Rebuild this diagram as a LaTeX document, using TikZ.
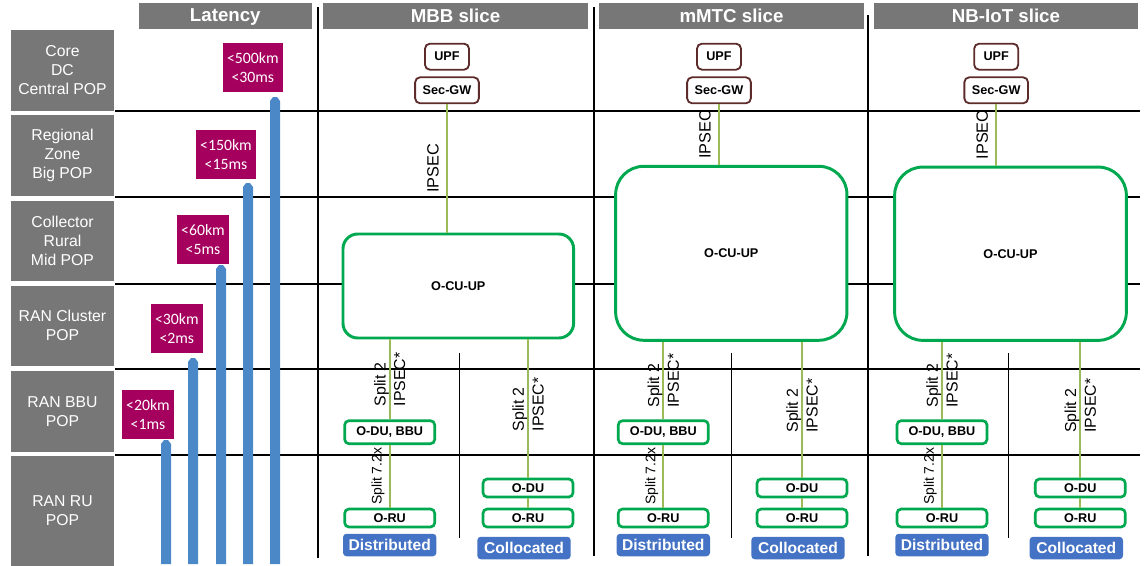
\documentclass[tikz,border=0pt]{standalone}
\usepackage{fontspec}
\setmainfont{Liberation Sans}
\newfontfamily\latfont{Carlito}

\definecolor{hdrgray}{HTML}{777777}
\definecolor{latmag}{HTML}{A6005F}
\definecolor{barblue}{HTML}{4A88C8}
\definecolor{nfgreen}{HTML}{00A84F}
\definecolor{linkolive}{HTML}{9BBB59}
\definecolor{gwbrown}{HTML}{5E2B2B}
\definecolor{tagblue}{HTML}{4472C4}

\newcommand*{\px}{0.025cm}
\newcommand*{\xmin}{0}
\newcommand*{\xmax}{1146}
\newcommand*{\ymin}{0}
\newcommand*{\ymax}{566}

\begin{document}
\begin{tikzpicture}
[
	x=\px, y=-\px,
	gridline/.style={black,line width=0.9pt},
	rowlabel/.style={fill=hdrgray,text=white,inner sep=0pt,minimum width=103*\px,align=center,font=\fontsize{11.2}{13.5}\selectfont},
	header/.style={fill=hdrgray,text=white,inner sep=0pt,minimum height=26*\px,text depth=0pt,font=\bfseries\fontsize{13.3}{15}\selectfont},
	latbox/.style={fill=latmag,text=white,inner xsep=4.5*\px,inner ysep=0pt,minimum height=49*\px,align=center,font=\latfont\fontsize{11.2}{13.5}\selectfont},
	gwbox/.style={draw=gwbrown,line width=1.3pt,fill=white,rounded corners=3.5pt,inner sep=0pt,minimum height=26*\px,font=\bfseries\fontsize{9}{10.8}\selectfont},
	ocu/.style={draw=nfgreen,line width=2.1pt,fill=white,inner sep=0pt,font=\bfseries\fontsize{9}{10.8}\selectfont},
	nfbox/.style={draw=nfgreen,line width=1.9pt,fill=white,rounded corners=3pt,inner sep=0pt,minimum width=90*\px,minimum height=18*\px,font=\bfseries\fontsize{9}{10.8}\selectfont},
	tag/.style={fill=tagblue,text=white,rounded corners=2.5pt,inner sep=0pt,minimum width=93.4*\px,minimum height=22.5*\px,font=\bfseries\fontsize{11.1}{13}\selectfont},
	link/.style={linkolive,line width=1.6pt},
	linklbl/.style={text=black,rotate=90,anchor=south,inner sep=0pt},
	splitlbl/.style={text=black,rotate=90,align=left,inner sep=0pt,font=\fontsize{11.3}{14}\selectfont}
]
	\useasboundingbox (\xmin,\ymin) rectangle (\xmax,\ymax);

	% grid
	\foreach \y in {111,197,284,369,455} {
		\draw[gridline] (115,\y) -- (1140,\y);
	}
	\draw[gridline] (318,7) -- (318,558);
	\draw[gridline] (594,7) -- (594,556);
	\draw[gridline] (868,15) -- (868,556);
	\foreach \x in {459.3,731.7,1008.3} {
		\draw[gridline] (\x,353) -- (\x,538);
	}

	% row labels
	\foreach \y/\h/\txt [count=\i] in {70.3/80.7/{Core\\DC\\Central POP}, 155.5/81/{Regional\\Zone\\Big POP}, 240.8/79.7/{Collector\\Rural\\Mid POP}, 325.8/79.7/{RAN Cluster\\POP}, 411.3/80.7/{RAN BBU\\POP}, 511/110/{RAN RU\\POP}} {
		\node[rowlabel,minimum height=\h*\px] (row\i) at (62.5,\y) {\txt};
	}

	% headers
	\node[header,minimum width=172.7*\px] (hdrlat) at (225.3,15.5) {Latency};
	\node[header,minimum width=265*\px] (hdrmbb) at (455.5,15.5) {MBB slice};
	\node[header,minimum width=265*\px] (hdrmmtc) at (731.5,16) {mMTC slice};
	\node[header,minimum width=264*\px] (hdrnbiot) at (1006,15.5) {NB-IoT slice};

	% latency bars
	\foreach \x/\ytop in {166/440,193/358,221/265,248/183,275/97} {
		\fill[barblue] (\x-5,564) -- (\x-5,\ytop+4) -- (\x-2,\ytop) -- (\x+2,\ytop) -- (\x+5,\ytop+4) -- (\x+5,564) -- cycle;
	}
	\foreach \x/\y/\km/\ms [count=\i] in {252.8/67.2/500/30, 226/154.5/150/15, 203/239.7/60/5, 176.8/328.8/30/2, 148/414.3/20/1} {
		\node[latbox] (lat\i) at (\x,\y) {<\km km\\<\ms ms};
	}

	% central units
	\node[ocu,minimum width=230.6*\px,minimum height=104*\px,rounded corners=10.5pt] (ocumbb) at (458.3,286) {O-CU-UP};
	\node[ocu,minimum width=231.3*\px,minimum height=174*\px,rounded corners=20pt] (ocummtc) at (731.3,253.3) {O-CU-UP};
	\node[ocu,minimum width=231.7*\px,minimum height=173.3*\px,rounded corners=20pt] (ocunbiot) at (1010.5,253.7) {O-CU-UP};

	% slices
	\foreach \sn/\gx/\dx/\cx in {mbb/447/389.7/528, mmtc/719/663.3/802, nbiot/996.2/942/1080.3} {
		\node[gwbox,minimum width=44*\px] (upf\sn) at (\gx,56.7) {UPF};
		\node[gwbox,minimum width=63.7*\px] (sec\sn) at (\gx,90.3) {Sec-GW};
		\node[nfbox,minimum height=23*\px] (bbu\sn) at (\dx,432.2) {O-DU, BBU};
		\node[nfbox] (rud\sn) at (\dx,518) {O-RU};
		\node[nfbox] (du\sn) at (\cx,488) {O-DU};
		\node[nfbox] (ruc\sn) at (\cx,518) {O-RU};
		\node[tag] (dist\sn) at (\dx,545) {Distributed};
		\node[tag] (coll\sn) at (\cx-4,548) {Collocated};

		\draw[link] (sec\sn) -- node[midway,xshift=-7*\px,linklbl,font=\fontsize{11.6}{14}\selectfont] {IPSEC} (sec\sn.south |- ocu\sn.north);
		\draw[link] (bbu\sn |- ocu\sn.south) -- node[midway,splitlbl] {Split 2\\IPSEC*} (bbu\sn);
		\draw[link] (bbu\sn) -- node[midway,xshift=-4*\px,linklbl,font=\fontsize{9.9}{12}\selectfont] {Split 7.2x} (rud\sn);
		\draw[link] (du\sn |- ocu\sn.south) -- node[pos=0.47,splitlbl] {Split 2\\IPSEC*} (du\sn);
		\draw[link] (du\sn) -- (ruc\sn);
	}

\end{tikzpicture}
\end{document}
